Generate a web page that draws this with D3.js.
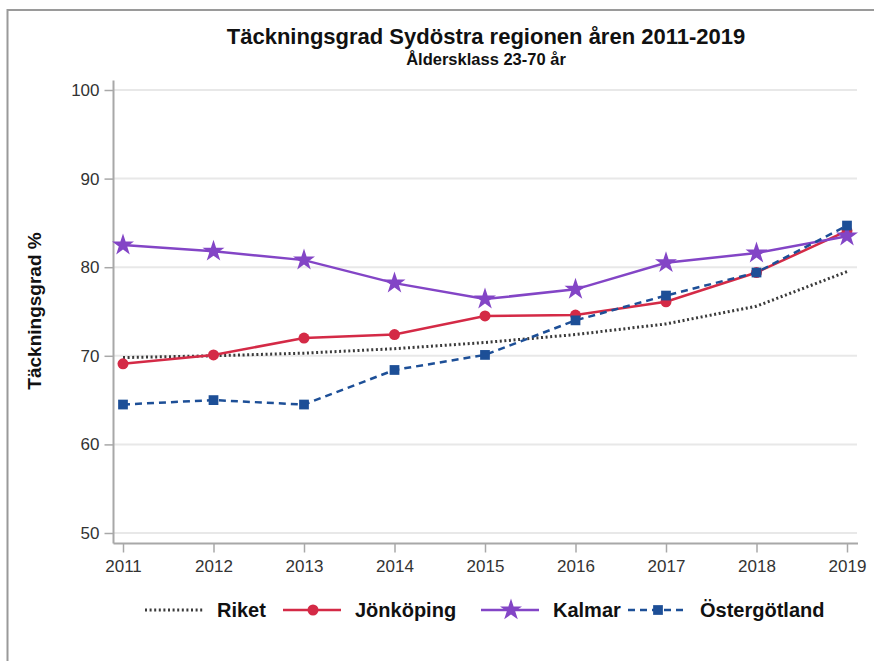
<!DOCTYPE html>
<html>
<head>
<meta charset="utf-8">
<script src="https://cdn.jsdelivr.net/npm/d3@7"></script>
<style>
  body { margin: 0; background: #fff; overflow: hidden; }
  svg { display: block; }
  text { font-family: "Liberation Sans", Arial, sans-serif; }
</style>
</head>
<body>
<script>
// data
var years = [2011, 2012, 2013, 2014, 2015, 2016, 2017, 2018, 2019];
var riket = [69.8, 70.0, 70.3, 70.8, 71.5, 72.4, 73.6, 75.6, 79.5];
var jonkoping = [69.1, 70.1, 72.0, 72.4, 74.5, 74.6, 76.1, 79.4, 84.1];
var kalmar = [82.5, 81.8, 80.8, 78.2, 76.4, 77.5, 80.5, 81.6, 83.5];
var ostergotland = [64.5, 65.0, 64.5, 68.4, 70.1, 74.0, 76.8, 79.4, 84.7];
var yTicks = [50, 60, 70, 80, 90, 100];

var series = [
  {name: "Riket", values: riket, color: "#3a3a3a", dash: "2,2.6", width: 3, marker: null},
  {name: "Jönköping", values: jonkoping, color: "#d42a46", dash: null, width: 2.5, marker: "circle"},
  {name: "Kalmar", values: kalmar, color: "#8345c6", dash: null, width: 2.5, marker: "star"},
  {name: "Östergötland", values: ostergotland, color: "#1d4f97", dash: "7,5", width: 2.5, marker: "square"}
];

var W = 874, H = 661;
var svg = d3.select("body").append("svg")
  .attr("width", W)
  .attr("height", H);

// outer frame, only top and left edges show
svg.append("path")
  .attr("d", "M7.5," + H + "V10H" + W)
  .attr("fill", "none")
  .attr("stroke", "#9a9a9a").attr("stroke-width", 2);

var x = d3.scaleLinear().domain([2011, 2019]).range([123, 847]);
var y = d3.scaleLinear().domain([50, 100]).range([533, 90]);
// note: "top" is taken by window.top, so plotTop
var plotLeft = 113.5, plotRight = 858, plotBottom = 543.5, plotTop = 80.5;

// gridlines
svg.append("g").selectAll("line").data(yTicks).enter().append("line")
  .attr("x1", plotLeft).attr("x2", plotRight - 1)
  .attr("y1", function (d) { return y(d); })
  .attr("y2", function (d) { return y(d); })
  .attr("stroke", "#e8e8e8").attr("stroke-width", 2);

// y axis
var yAxis = svg.append("g")
  .attr("transform", "translate(" + plotLeft + ",0)")
  .call(d3.axisLeft(y).tickValues(yTicks).tickSize(9).tickPadding(5).tickSizeOuter(0));
yAxis.select(".domain").remove();
svg.append("line").attr("x1", plotLeft).attr("x2", plotLeft).attr("y1", plotTop).attr("y2", plotBottom)
  .attr("stroke", "#a8a8a8").attr("stroke-width", 2);

// x axis
var xAxis = svg.append("g")
  .attr("transform", "translate(0," + plotBottom + ")")
  .call(d3.axisBottom(x).tickValues(years).tickFormat(d3.format("d")).tickSize(9).tickPadding(7).tickSizeOuter(0));
xAxis.select(".domain").remove();
svg.append("line").attr("x1", plotLeft).attr("x2", plotRight).attr("y1", plotBottom).attr("y2", plotBottom)
  .attr("stroke", "#a8a8a8").attr("stroke-width", 2);

svg.selectAll(".tick line").attr("stroke", "#a8a8a8").attr("stroke-width", 1.5);
svg.selectAll(".tick text").attr("fill", "#333").style("font-size", "17px")
  .style("font-family", "'Liberation Sans', Arial, sans-serif");

// titles
svg.append("text").attr("x", 486).attr("y", 44).attr("text-anchor", "middle")
  .style("font-size", "22px").style("font-weight", "bold").attr("fill", "#111")
  .text("Täckningsgrad Sydöstra regionen åren 2011-2019");
svg.append("text").attr("x", 486).attr("y", 65).attr("text-anchor", "middle")
  .style("font-size", "16.5px").style("font-weight", "bold").attr("fill", "#111")
  .text("Åldersklass 23-70 år");
svg.append("text")
  .attr("transform", "translate(41,311) rotate(-90)")
  .attr("text-anchor", "middle")
  .style("font-size", "19px").style("font-weight", "bold").attr("fill", "#111")
  .text("Täckningsgrad %");

var star = d3.symbol().type(d3.symbolStar).size(150);
var square = d3.symbol().type(d3.symbolSquare).size(95);

function drawMarker(g, s, cx, cy) {
  if (s.marker === "circle") {
    g.append("circle").attr("cx", cx).attr("cy", cy).attr("r", 5.5).attr("fill", s.color);
  } else if (s.marker === "star") {
    g.append("path").attr("d", star).attr("transform", "translate(" + cx + "," + cy + ")")
      .attr("fill", s.color);
  } else if (s.marker === "square") {
    g.append("path").attr("d", square).attr("transform", "translate(" + cx + "," + cy + ")")
      .attr("fill", s.color);
  }
}

var line = d3.line()
  .x(function (d, i) { return x(years[i]); })
  .y(function (d) { return y(d); });

series.forEach(function (s) {
  var g = svg.append("g");
  g.append("path")
    .attr("d", line(s.values))
    .attr("fill", "none")
    .attr("stroke", s.color)
    .attr("stroke-width", s.width)
    .attr("stroke-dasharray", s.dash);
  s.values.forEach(function (v, i) { drawMarker(g, s, x(years[i]), y(v)); });
});

// legend
var legendX = [145, 283, 481, 628];
var legY = 610;
series.forEach(function (s, i) {
  var g = svg.append("g");
  var x0 = legendX[i];
  g.append("line").attr("x1", x0).attr("x2", x0 + 58).attr("y1", legY).attr("y2", legY)
    .attr("stroke", s.color).attr("stroke-width", s.width).attr("stroke-dasharray", s.dash);
  drawMarker(g, s, x0 + 30, legY);
  g.append("text").attr("x", x0 + 72).attr("y", legY + 7)
    .style("font-size", "20px").style("font-weight", "bold").attr("fill", "#111")
    .text(s.name);
});
</script>
</body>
</html>
